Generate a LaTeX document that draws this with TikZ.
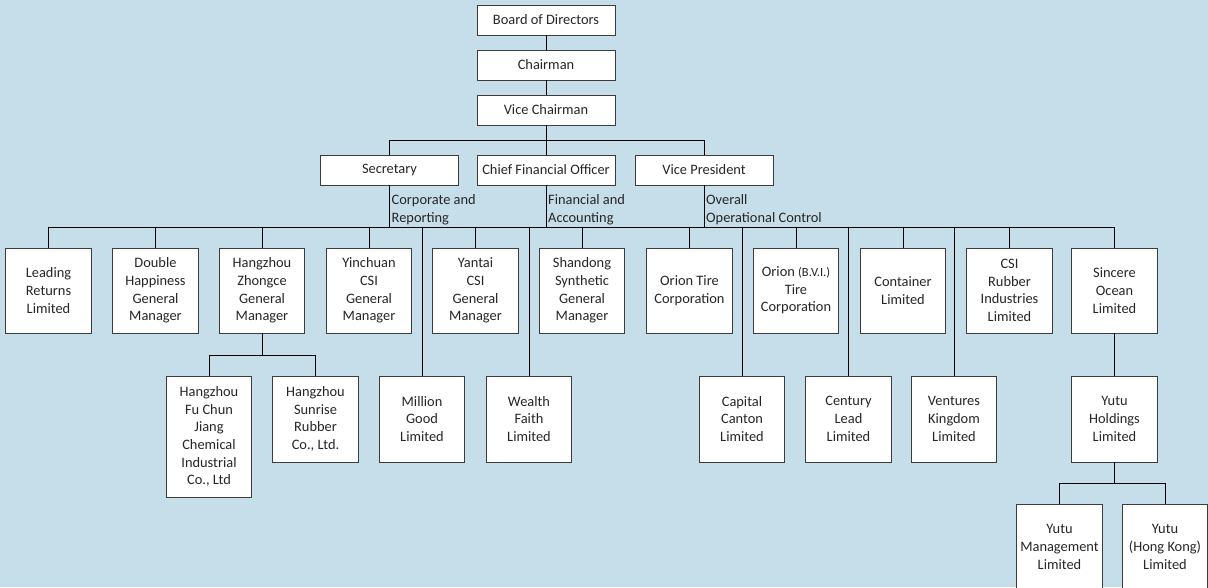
\documentclass[tikz,border=0pt]{standalone}
\usepackage{fontspec}
\setmainfont{Carlito}
\definecolor{bg}{RGB}{198,222,233}
\definecolor{edge}{RGB}{60,60,60}
\begin{document}
\begin{tikzpicture}[x=1pt,y=-1pt,
  txt/.style={font=\fontsize{14.4}{17.7}\selectfont, text=black!85},
  box/.style={txt, draw=edge, fill=white, line width=0.9pt, align=center, inner sep=1pt},
  topbox/.style={box, minimum width=138pt, minimum height=30pt},
  lvl/.style={box, minimum width=85.5pt, minimum height=85pt},
  tall/.style={box, minimum width=85.5pt, minimum height=121pt},
  lab/.style={txt, align=left, inner sep=2pt, anchor=south west},
  conn/.style={draw=black, line width=0.9pt}]
\useasboundingbox (0,0) rectangle (1208,587);
\fill[bg] (0,0) rectangle (1208,587);
\clip (0,0) rectangle (1208,587);

% top chain
\node[topbox] (bod) at (546,20) {Board of Directors};
\node[topbox] (ch) at (546,65) {Chairman};
\node[topbox] (vc) at (546,110) {Vice Chairman};
\node[topbox] (sec) at (389.5,170) {Secretary};
\node[topbox] (cfo) at (546,170) {Chief Financial Officer};
\node[topbox] (vp) at (704,170) {Vice President};

% level 1
\node[lvl] (lr) at (48.5,290.5) {Leading\\Returns\\Limited};
\node[lvl] (dh) at (155.5,290.5) {Double\\Happiness\\General\\Manager};
\node[lvl] (hz) at (262,290.5) {Hangzhou\\Zhongce\\General\\Manager};
\node[lvl] (yc) at (369,290.5) {Yinchuan\\CSI\\General\\Manager};
\node[lvl] (yt) at (475.5,290.5) {Yantai\\CSI\\General\\Manager};
\node[lvl] (sd) at (582,290.5) {Shandong\\Synthetic\\General\\Manager};
\node[lvl] (ot) at (689.5,290.5) {Orion Tire\\Corporation};
\node[lvl] (ob) at (796,290.5) {Orion {\fontsize{12.5}{17.7}\selectfont(B.V.I.)}\\Tire\\Corporation};
\node[lvl] (ct) at (903,290.5) {Container\\Limited};
\node[lvl] (cs) at (1009.5,290.5) {CSI\\Rubber\\Industries\\Limited};
\node[lvl] (so) at (1114.5,290.5) {Sincere\\Ocean\\Limited};

% level 2
\node[tall] (fc) at (209,436.5) {Hangzhou\\Fu Chun\\Jiang\\Chemical\\Industrial\\Co., Ltd};
\node[lvl, minimum height=86pt] (sr) at (315.5,419) {Hangzhou\\Sunrise\\Rubber\\Co., Ltd.};
\node[lvl, minimum height=86pt] (mg) at (422,419) {Million\\Good\\Limited};
\node[lvl, minimum height=86pt] (wf) at (529,419) {Wealth\\Faith\\Limited};
\node[lvl, minimum height=86pt] (cc) at (742,419) {Capital\\Canton\\Limited};
\node[lvl, minimum height=86pt] (cl) at (848.5,419) {Century\\Lead\\Limited};
\node[lvl, minimum height=86pt] (vk) at (954,419) {Ventures\\Kingdom\\Limited};
\node[lvl, minimum height=86pt] (yh) at (1114.5,419) {Yutu\\Holdings\\Limited};

% level 3
\node[lvl, minimum height=86pt] (ym) at (1059.5,547) {Yutu\\Management\\Limited};
\node[lvl, minimum height=86pt] (yk) at (1165,547) {Yutu\\(Hong Kong)\\Limited};

% coordinates for bus levels
\coordinate (t) at (0,140);
\coordinate (bus) at (0,227);
\coordinate (hb) at (0,355);
\coordinate (yb) at (0,483);

% connectors
\draw[conn] (bod) -- (ch);
\draw[conn] (ch) -- (vc);
\draw[conn] (vc.south) -- (cfo.north);
\draw[conn] (sec.north) -- (sec.north |- t) -- (vp.north |- t) -- (vp.north);
\draw[conn] (sec.south) -- (sec.south |- bus);
\draw[conn] (cfo.south) -- (cfo.south |- bus);
\draw[conn] (vp.south) -- (vp.south |- bus);
\draw[conn] (lr.north |- bus) -- (so.north |- bus);
\foreach \n in {lr,dh,hz,yc,yt,sd,ot,ob,ct,cs,so,mg,wf,cc,cl,vk}
  \draw[conn] (\n.north) -- (\n.north |- bus);
\draw[conn] (hz.south) -- (hz.south |- hb);
\draw[conn] (fc.north) -- (fc.north |- hb) -- (sr.north |- hb) -- (sr.north);
\draw[conn] (so.south) -- (yh.north);
\draw[conn] (yh.south) -- (yh.south |- yb);
\draw[conn] (ym.north) -- (ym.north |- yb) -- (yk.north |- yb) -- (yk.north);

% labels
\node[lab] (l1) at (sec.south |- bus) {Corporate and\\Reporting};
\node[lab] (l2) at (cfo.south |- bus) {Financial and\\Accounting};
\node[lab] (l3) at (vp.south |- bus) {Overall\\Operational Control};
\end{tikzpicture}
\end{document}
